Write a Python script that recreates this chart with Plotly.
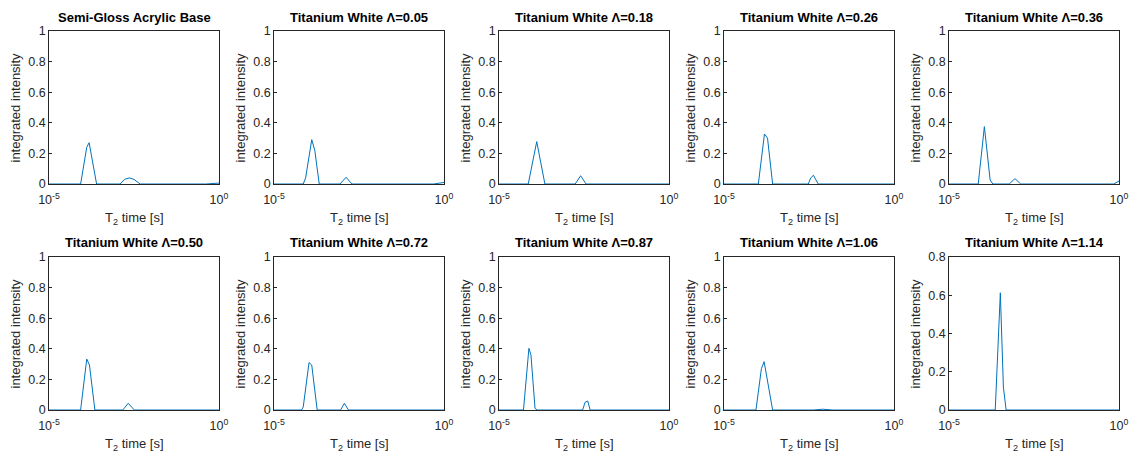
import plotly.graph_objects as go

W, H = 1130, 458

titles = [
    "Semi-Gloss Acrylic Base",
    "Titanium White Λ=0.05",
    "Titanium White Λ=0.18",
    "Titanium White Λ=0.26",
    "Titanium White Λ=0.36",
    "Titanium White Λ=0.50",
    "Titanium White Λ=0.72",
    "Titanium White Λ=0.87",
    "Titanium White Λ=1.06",
    "Titanium White Λ=1.14",
]

# log10(T2 [s]) sample positions and integrated intensities per panel
log_t2_1 = [-5, -4.07, -3.89, -3.82, -3.60, -2.91, -2.78, -2.64, -2.50, -2.32, -0.39, 0]
amp_1 = [0, 0, 0.24, 0.27, 0, 0, 0.03, 0.04, 0.03, 0, 0, 0.006]

log_t2_2 = [-5, -4.14, -4.07, -3.89, -3.80, -3.67, -3.06, -2.88, -2.71, -0.31, 0]
amp_2 = [0, 0, 0.04, 0.29, 0.22, 0, 0, 0.044, 0, 0, 0.01]

log_t2_3 = [-5, -4.14, -3.89, -3.65, -2.76, -2.60, -2.44, 0]
amp_3 = [0, 0, 0.277, 0, 0, 0.054, 0, 0]

log_t2_4 = [-5, -3.99, -3.81, -3.72, -3.57, -2.52, -2.45, -2.37, -2.23, 0]
amp_4 = [0, 0, 0.327, 0.30, 0, 0, 0.04, 0.057, 0, 0]

log_t2_5 = [-5, -4.14, -3.96, -3.79, -3.71, -3.23, -3.06, -2.89, -0.15, 0]
amp_5 = [0, 0, 0.375, 0.026, 0, 0, 0.035, 0, 0, 0.02]

log_t2_6 = [-5, -4.07, -3.89, -3.81, -3.65, -2.83, -2.67, -2.49, 0]
amp_6 = [0, 0, 0.333, 0.294, 0, 0, 0.044, 0, 0]

log_t2_7 = [-5, -4.19, -4.14, -3.97, -3.89, -3.73, -3.04, -2.93, -2.81, 0]
amp_7 = [0, 0, 0.02, 0.31, 0.294, 0, 0, 0.044, 0, 0]

log_t2_8 = [-5, -4.28, -4.12, -4.06, -3.94, -3.87, -2.54, -2.47, -2.39, -2.32, 0]
amp_8 = [0, 0, 0.403, 0.36, 0.01, 0, 0, 0.05, 0.059, 0, 0]

log_t2_9 = [-5, -4.06, -3.90, -3.82, -3.57, -2.37, -2.10, -1.80, 0]
amp_9 = [0, 0, 0.27, 0.316, 0, 0, 0.005, 0, 0]

log_t2_10 = [-5, -3.64, -3.49, -3.40, -3.32, 0]
amp_10 = [0, 0, 0.613, 0.12, 0, 0]

series = [
    (log_t2_1, amp_1), (log_t2_2, amp_2), (log_t2_3, amp_3), (log_t2_4, amp_4),
    (log_t2_5, amp_5), (log_t2_6, amp_6), (log_t2_7, amp_7), (log_t2_8, amp_8),
    (log_t2_9, amp_9), (log_t2_10, amp_10),
]

y_max = [1, 1, 1, 1, 1, 1, 1, 1, 1, 0.8]
x_tick_vals = [1e-5, 1]
x_tick_text = ["10<sup>-5</sup>", "10<sup>0</sup>"]

TXT = "#262626"
LINE = "#0072BD"
FONT = "Liberation Sans, Arial, sans-serif"

col_left = [49, 274, 499, 724, 949]
ax_w = 170
row_top = [31, 257]
ax_h = 153

fig = go.Figure()
annotations = []
for i, (lx, amp) in enumerate(series):
    r, c = divmod(i, 5)
    n = i + 1
    xa = "x" if n == 1 else f"x{n}"
    ya = "y" if n == 1 else f"y{n}"
    fig.add_trace(go.Scatter(
        x=[10 ** v for v in lx], y=amp, mode="lines",
        line=dict(color=LINE, width=1), xaxis=xa, yaxis=ya,
        showlegend=False, hoverinfo="skip"))
    l = col_left[c]
    t = row_top[r]
    x0, x1 = l / W, (l + ax_w) / W
    y1, y0 = 1 - t / H, 1 - (t + ax_h) / H
    xkey = "xaxis" if n == 1 else f"xaxis{n}"
    ykey = "yaxis" if n == 1 else f"yaxis{n}"
    fig.layout[xkey] = dict(
        type="log", domain=[x0, x1], range=[-5, 0], anchor=ya,
        automargin=False, ticklabelstandoff=4,
        tickvals=x_tick_vals, ticktext=x_tick_text,
        ticks="inside", ticklen=3, tickcolor=TXT, tickwidth=0.8,
        showline=True, linecolor=TXT, linewidth=0.8, mirror=True,
        showgrid=False, zeroline=False,
        tickfont=dict(family=FONT, size=12.5, color=TXT))
    ym = y_max[i]
    nt = int(round(ym / 0.2)) + 1
    fig.layout[ykey] = dict(
        domain=[y0, y1], range=[0, ym], anchor=xa,
        automargin=False,
        tickvals=[k * 0.2 for k in range(nt)],
        ticktext=["0" if k == 0 else ("1" if k == 5 else f"{k*0.2:.1f}") for k in range(nt)],
        ticks="inside", ticklen=3, tickcolor=TXT, tickwidth=0.8,
        showline=True, linecolor=TXT, linewidth=0.8, mirror=True,
        showgrid=False, zeroline=False,
        tickfont=dict(family=FONT, size=12.5, color=TXT))
    # title
    annotations.append(dict(
        text=f"<b>{titles[i]}</b>", x=(l + ax_w / 2) / W, y=1 - (t - 14) / H,
        xref="paper", yref="paper", showarrow=False,
        font=dict(family=FONT, size=13, color="#000000"),
        xanchor="center", yanchor="middle"))
    # y label
    annotations.append(dict(
        text="integrated intensity", x=(l - 34) / W, y=1 - (t + ax_h / 2) / H,
        xref="paper", yref="paper", showarrow=False, textangle=-90,
        font=dict(family=FONT, size=13, color=TXT),
        xanchor="center", yanchor="middle"))
    # x label
    annotations.append(dict(
        text="T<sub>2</sub> time [s]", x=(l + ax_w / 2) / W, y=1 - (t + ax_h + 34) / H,
        xref="paper", yref="paper", showarrow=False,
        font=dict(family=FONT, size=13, color=TXT),
        xanchor="center", yanchor="middle"))

fig.update_layout(
    width=W, height=H, margin=dict(l=0, r=0, t=0, b=0),
    paper_bgcolor="white", plot_bgcolor="white",
    annotations=annotations, showlegend=False)

fig.write_html(
    "out.html",
    config={"displayModeBar": False},
    post_script="document.body.style.margin='0px';document.body.style.overflow='hidden';")
